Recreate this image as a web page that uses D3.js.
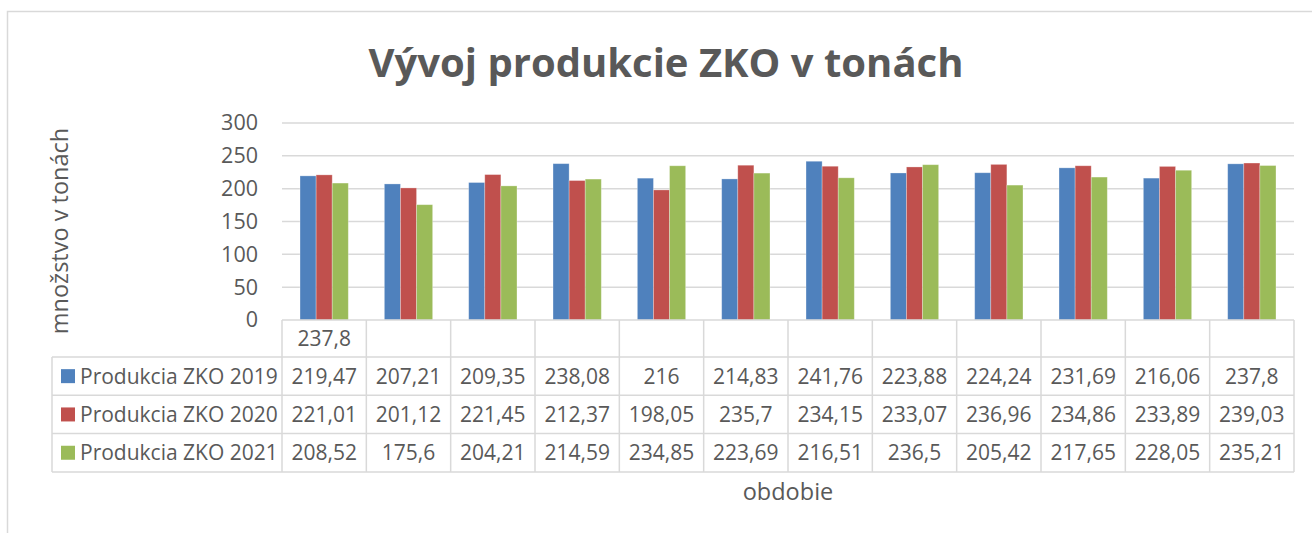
<!DOCTYPE html>
<html>
<head>
<meta charset="utf-8">
<script src="https://cdn.jsdelivr.net/npm/d3@7"></script>
<style>
  body { margin: 0; background: #fff; }
  svg { display: block; font-family: "Open Sans", sans-serif; }
</style>
</head>
<body>
<div id="chart"></div>
<script>
const width = 1312;
const height = 533;
const margin = { top: 123, right: 18, bottom: 213, left: 282 };

const categories = ["237,8", "", "", "", "", "", "", "", "", "", "", ""];
const seriesNames = ["Produkcia ZKO 2019", "Produkcia ZKO 2020", "Produkcia ZKO 2021"];
const values2019 = [219.47, 207.21, 209.35, 238.08, 216, 214.83, 241.76, 223.88, 224.24, 231.69, 216.06, 237.8];
const values2020 = [221.01, 201.12, 221.45, 212.37, 198.05, 235.7, 234.15, 233.07, 236.96, 234.86, 233.89, 239.03];
const values2021 = [208.52, 175.6, 204.21, 214.59, 234.85, 223.69, 216.51, 236.5, 205.42, 217.65, 228.05, 235.21];
const yTicks = [0, 50, 100, 150, 200, 250, 300];
const colors = ["#4f81bd", "#c0504d", "#9bbb59"];

const textColor = "#595959";
const gridColor = "#d9d9d9";

const series = [values2019, values2020, values2021].map((vals, i) => ({
  name: seriesNames[i],
  color: colors[i],
  values: vals,
}));

// category index keys so that blank labels stay distinct
const keys = categories.map((d, i) => i);
const fmt = (v) => String(v).replace(".", ",");

const svg = d3.select("#chart")
  .append("svg")
  .attr("width", width)
  .attr("height", height);

// chart border
svg.append("rect")
  .attr("x", 7.5).attr("y", 11.5)
  .attr("width", width + 20).attr("height", height + 20)
  .attr("fill", "none").attr("stroke", gridColor).attr("stroke-width", 1.5);

svg.append("text")
  .attr("x", 666).attr("y", 77)
  .attr("text-anchor", "middle")
  .attr("fill", textColor)
  .attr("font-size", 40)
  .attr("font-weight", 700)
  .text("Vývoj produkcie ZKO v tonách");

const x0 = d3.scaleBand()
  .domain(keys)
  .range([margin.left, width - margin.right])
  .padding(0);

const x1 = d3.scaleBand()
  .domain(series.map((s) => s.name))
  .range([0, x0.bandwidth()])
  .paddingInner(0)
  .paddingOuter(1.12);

const y = d3.scaleLinear()
  .domain([0, 300])
  .range([height - margin.bottom, margin.top]);

// gridlines
svg.append("g")
  .selectAll("line")
  .data(yTicks.filter((t) => t > 0))
  .join("line")
  .attr("x1", margin.left).attr("x2", width - margin.right)
  .attr("y1", (d) => y(d)).attr("y2", (d) => y(d))
  .attr("stroke", gridColor).attr("stroke-width", 1.5);

// y axis labels
const yAxis = svg.append("g")
  .attr("transform", `translate(${margin.left},0)`)
  .call(d3.axisLeft(y).tickValues(yTicks).tickSize(0).tickPadding(24));
yAxis.select(".domain").remove();
yAxis.selectAll("text")
  .attr("fill", textColor)
  .attr("font-size", 21.5)
  .attr("font-family", "Open Sans, sans-serif");

// bars
series.forEach((s) => {
  svg.append("g")
    .selectAll("rect")
    .data(s.values)
    .join("rect")
    .attr("x", (d, i) => x0(i) + x1(s.name))
    .attr("y", (d) => y(d))
    .attr("width", x1.bandwidth())
    .attr("height", (d) => y(0) - y(d))
    .attr("fill", s.color)
    .attr("stroke", "#ffffff")
    .attr("stroke-opacity", 0.35)
    .attr("stroke-width", 0.8);
});

// data table
const rowTop = y(0);
const headerH = 37;
const rowH = 38.3;
const legendLeft = 52;
const tableRight = width - margin.right;
const table = svg.append("g");

// header row: category labels
table.selectAll(".cat")
  .data(keys)
  .join("text")
  .attr("class", "cat")
  .attr("x", (d) => x0(d) + x0.bandwidth() / 2)
  .attr("y", rowTop + headerH / 2 + 7.5)
  .attr("text-anchor", "middle")
  .attr("fill", textColor)
  .attr("font-size", 21)
  .text((d) => categories[d]);

// series rows
series.forEach((s, r) => {
  const top = rowTop + headerH + r * rowH;
  const cy = top + rowH / 2;
  table.append("rect")
    .attr("x", legendLeft + 9).attr("y", cy - 7)
    .attr("width", 14).attr("height", 14)
    .attr("fill", s.color);
  table.append("text")
    .attr("x", legendLeft + 28).attr("y", cy + 7.5)
    .attr("fill", textColor)
    .attr("font-size", 21)
    .text(s.name);
  table.selectAll(null)
    .data(s.values)
    .join("text")
    .attr("x", (d, i) => x0(i) + x0.bandwidth() / 2)
    .attr("y", cy + 7.5)
    .attr("text-anchor", "middle")
    .attr("fill", textColor)
    .attr("font-size", 21)
    .text((d) => fmt(d));
});

// table lines
const tableBottom = rowTop + headerH + 3 * rowH;
const hLines = [
  { y: rowTop, x1: margin.left, x2: tableRight },
  { y: rowTop + headerH, x1: legendLeft, x2: tableRight },
  { y: rowTop + headerH + rowH, x1: legendLeft, x2: tableRight },
  { y: rowTop + headerH + 2 * rowH, x1: legendLeft, x2: tableRight },
  { y: tableBottom, x1: legendLeft, x2: tableRight },
];
table.selectAll(".hl")
  .data(hLines)
  .join("line")
  .attr("class", "hl")
  .attr("x1", (d) => d.x1).attr("x2", (d) => d.x2)
  .attr("y1", (d) => d.y).attr("y2", (d) => d.y)
  .attr("stroke", gridColor).attr("stroke-width", 1.5);

const vLines = keys.map((k) => ({ x: x0(k), y1: rowTop }))
  .concat([{ x: tableRight, y1: rowTop }, { x: legendLeft, y1: rowTop + headerH }]);
table.selectAll(".vl")
  .data(vLines)
  .join("line")
  .attr("class", "vl")
  .attr("x1", (d) => d.x).attr("x2", (d) => d.x)
  .attr("y1", (d) => d.y1).attr("y2", tableBottom)
  .attr("stroke", gridColor).attr("stroke-width", 1.5);

// axis titles
svg.append("text")
  .attr("transform", "translate(68,231) rotate(-90)")
  .attr("text-anchor", "middle")
  .attr("fill", textColor)
  .attr("font-size", 23.5)
  .text("množstvo v tonách");

svg.append("text")
  .attr("x", (margin.left + tableRight) / 2)
  .attr("y", 500)
  .attr("text-anchor", "middle")
  .attr("fill", textColor)
  .attr("font-size", 23.5)
  .text("obdobie");
</script>
</body>
</html>
